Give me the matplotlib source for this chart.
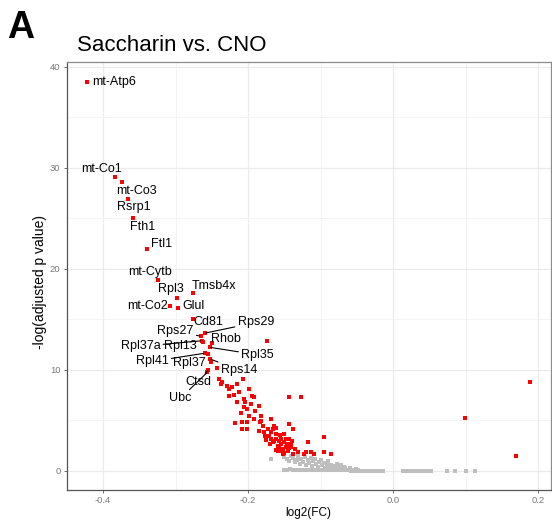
import matplotlib
matplotlib.use("Agg")
import matplotlib.pyplot as plt

plt.rcParams['font.family'] = ['Liberation Sans', 'DejaVu Sans']

# ---------------- data ----------------
# labelled genes (log2FC, -log10 adj p)
gene_names = ["mt-Atp6", "mt-Co1", "mt-Co3", "Rsrp1", "Fth1", "Ftl1", "mt-Cytb",
              "Rpl3", "Tmsb4x", "mt-Co2", "Glul", "Cd81", "Rps29", "Rps27", "Rhob",
              "Rpl35", "Rpl37a", "Rpl13", "Rpl41", "Rpl37", "Rps14", "Ctsd", "Ubc"]
gene_x = [-0.422, -0.3834, -0.374, -0.366, -0.3585, -0.3388, -0.324,
          -0.2977, -0.2762, -0.307, -0.2963, -0.2762, -0.2596, -0.2655, -0.2495,
          -0.2530, -0.2640, -0.2623, -0.2596, -0.2554, -0.2526, -0.2554, -0.2563]
gene_y = [38.5, 29.1, 28.6, 26.9, 24.96, 21.96, 18.83,
          17.1, 17.58, 16.3, 16.14, 15.0, 13.6, 13.3, 12.6,
          12.2, 12.85, 12.68, 11.62, 11.52, 11.05, 9.98, 9.72]

# other significant genes (red)
sig_x = [-0.2402, -0.2379, -0.2286, -0.2264, -0.2217, -0.2148, -0.2065, -0.2195,
         -0.2264, -0.2148, -0.2057, -0.2043, -0.1988, -0.1941, -0.1918, -0.1435,
         -0.1273, -0.2057, -0.2010, -0.1849, -0.2093, -0.1987, -0.2185, -0.2079,
         -0.2079, -0.2010, -0.2010, -0.1918, -0.1826, -0.1840, -0.1800, -0.1733,
         -0.1688, -0.1780, -0.1711, -0.1664, -0.1642, -0.1618, -0.1618, -0.1688,
         -0.1664, -0.1642, -0.1618, -0.1595, -0.1573, -0.1549, -0.1549, -0.1526,
         -0.1504, -0.1480, -0.1480, -0.1457, -0.1435, -0.1435, -0.1411, -0.1411,
         -0.1400, -0.1388, -0.1526, -0.1595, -0.1388, -0.1227, -0.1204, -0.1180,
         -0.1135, -0.1089, -0.0951, -0.0951, -0.0858, -0.1743, -0.2430, -0.2517,
         -0.1700, -0.1560, -0.1500, -0.1470, -0.1620, -0.1530, -0.1440, -0.1580,
         -0.1750, -0.1850, -0.2355, -0.2120, -0.1960, -0.1900, -0.1820, -0.1770,
         -0.1680, -0.1500, -0.1360, -0.1310,
         0.1883, 0.0984, 0.1685]
sig_y = [9.06, 8.56, 8.39, 8.07, 8.24, 8.56, 9.06, 7.48,
         7.41, 6.81, 7.08, 6.76, 8.07, 7.41, 7.25, 7.31,
         7.25, 6.26, 6.09, 6.36, 5.67, 5.43, 4.71, 4.78,
         4.12, 4.12, 4.78, 5.11, 5.43, 4.78, 4.45, 4.12,
         5.11, 3.79, 3.46, 4.12, 4.44, 4.22, 3.62, 3.13,
         2.80, 2.96, 3.13, 2.47, 2.31, 3.13, 2.64, 2.14,
         2.80, 2.31, 3.13, 1.98, 3.13, 4.61, 2.64, 2.31,
         2.95, 4.12, 1.65, 1.98, 1.65, 1.65, 1.82, 2.80,
         1.88, 1.65, 3.36, 1.82, 1.65, 12.84, 10.2, 10.77,
         2.60, 3.50, 3.60, 2.60, 2.00, 1.90, 2.20, 2.90,
         3.00, 3.90, 8.75, 7.80, 6.60, 5.90, 4.90, 3.40,
         3.80, 1.75, 2.10, 1.85,
         8.73, 5.20, 1.48]

# non-significant genes (grey)
ns_x = [-0.168, -0.150, -0.147, -0.144, -0.141, -0.138, -0.136, -0.133, -0.131,
        -0.129, -0.127, -0.125, -0.122, -0.120, -0.118, -0.116, -0.114, -0.112,
        -0.110, -0.108, -0.106, -0.104, -0.102, -0.100, -0.098, -0.096, -0.094,
        -0.092, -0.090, -0.088, -0.086, -0.084, -0.082, -0.080, -0.078, -0.076,
        -0.074, -0.072, -0.070, -0.068, -0.066, -0.064, -0.060, -0.056, -0.052,
        -0.048,
        -0.150, -0.146, -0.142, -0.138, -0.134, -0.130, -0.126, -0.122, -0.118,
        -0.114, -0.110, -0.106, -0.102, -0.098, -0.094, -0.090, -0.086, -0.082,
        -0.078, -0.074, -0.070, -0.066, -0.062, -0.058, -0.054, -0.050, -0.046,
        -0.042, -0.038, -0.034, -0.030, -0.026, -0.022, -0.018, -0.014,
        0.013, 0.017, 0.021, 0.025, 0.029, 0.033, 0.037, 0.041, 0.045, 0.049,
        0.052, 0.0745, 0.0846, 0.0998, 0.1132]
ns_y = [1.15, 1.35, 1.10, 0.90, 1.45, 1.20, 0.80, 1.00, 1.40,
        0.60, 1.15, 0.85, 1.30, 0.50, 1.00, 0.70, 1.20, 0.40,
        0.90, 1.10, 0.60, 0.30, 0.80, 1.00, 0.50, 0.70, 0.25,
        0.60, 0.90, 0.40, 0.55, 0.20, 0.45, 0.30, 0.65, 0.20,
        0.35, 0.50, 0.15, 0.30, 0.25, 0.10, 0.20, 0.10, 0.15,
        0.05,
        0.10, 0.05, 0.15, 0.05, 0.10, 0.02, 0.08, 0.03, 0.06,
        0.02, 0.05, 0.02, 0.04, 0.02, 0.03, 0.01, 0.02, 0.01,
        0.02, 0.01, 0.01, 0.01, 0.01, 0.0, 0.0, 0.0, 0.0,
        0.0, 0.0, 0.0, 0.0, 0.0, 0.0, 0.0, 0.0,
        0.0, 0.0, 0.0, 0.0, 0.0, 0.0, 0.0, 0.0, 0.0, 0.0,
        0.0, 0.0, 0.0, 0.0, 0.0]

x_ticks = [-0.4, -0.2, 0.0, 0.2]
x_tick_labels = ["-0.4", "-0.2", "0.0", "0.2"]
y_ticks = [0, 10, 20, 30, 40]
y_tick_labels = ["0", "10", "20", "30", "40"]

# label placement (layout): name -> (label x, label y, ha, draw segment)
label_pos = {
    "mt-Atp6": (-0.4152, 38.5, 'left', False),
    "mt-Co1": (-0.4014, 29.9, 'center', False),
    "mt-Co3": (-0.354, 27.7, 'center', False),
    "Rsrp1": (-0.3577, 26.07, 'center', False),
    "Fth1": (-0.3447, 24.1, 'center', False),
    "Ftl1": (-0.3198, 22.46, 'center', False),
    "mt-Cytb": (-0.3356, 19.69, 'center', False),
    "Rpl3": (-0.307, 17.95, 'center', False),
    "Tmsb4x": (-0.2471, 18.24, 'center', False),
    "mt-Co2": (-0.3392, 16.3, 'center', False),
    "Glul": (-0.2748, 16.27, 'center', False),
    "Cd81": (-0.2549, 14.66, 'center', False),
    "Rps29": (-0.1895, 14.66, 'center', True),
    "Rps27": (-0.3001, 13.83, 'center', True),
    "Rhob": (-0.2310, 13.0, 'center', False),
    "Rpl35": (-0.1871, 11.46, 'center', True),
    "Rpl37a": (-0.3484, 12.29, 'center', True),
    "Rpl13": (-0.2927, 12.29, 'center', False),
    "Rpl41": (-0.3323, 10.8, 'center', True),
    "Rpl37": (-0.2803, 10.64, 'center', False),
    "Rps14": (-0.2126, 9.95, 'center', True),
    "Ctsd": (-0.2679, 8.73, 'center', True),
    "Ubc": (-0.2932, 7.15, 'center', True),
}

# ---------------- figure ----------------
fig = plt.figure(figsize=(5.52, 5.21), dpi=100)
ax = fig.add_axes([0.1208, 0.0595, 0.877, 0.821])

ax.set_xlim(-0.45, 0.217)
ax.set_ylim(-1.93, 40.43)

# grid
ax.set_xticks(x_ticks)
ax.set_xticklabels(x_tick_labels)
ax.set_yticks(y_ticks)
ax.set_yticklabels(y_tick_labels)
ax.set_xticks([-0.3, -0.1, 0.1], minor=True)
ax.set_yticks([5, 15, 25, 35], minor=True)
ax.grid(which='major', color='#EBEBEB', lw=0.9)
ax.grid(which='minor', color='#F2F2F2', lw=0.6)
ax.set_axisbelow(True)
ax.tick_params(which='minor', length=0)
ax.tick_params(which='major', length=2.5, width=0.6, color='#555555',
               labelsize=6.8, labelcolor='#7A7A7A', pad=2)
for s in ax.spines.values():
    s.set_color('#8C8C8C')
    s.set_linewidth(0.9)
ax.spines['left'].set_color('#555555')
ax.spines['bottom'].set_color('#555555')

# points
ax.scatter(ns_x, ns_y, marker='s', s=11, color='#BEBEBE', linewidths=0, zorder=2)
ax.scatter(sig_x, sig_y, marker='s', s=11, color='#FF0000', linewidths=0, zorder=3)
ax.scatter(gene_x, gene_y, marker='s', s=11, color='#FF0000', linewidths=0, zorder=3)

# labels
for name, gx, gy in zip(gene_names, gene_x, gene_y):
    lx, ly, ha, seg = label_pos[name]
    if seg:
        ax.annotate(name, xy=(gx, gy), xytext=(lx, ly), ha=ha, va='center',
                    fontsize=9, color='black', zorder=4,
                    arrowprops=dict(arrowstyle='-', color='black', lw=0.8,
                                    shrinkA=0, shrinkB=1))
    else:
        ax.text(lx, ly, name, ha=ha, va='center', fontsize=9, color='black', zorder=4)

# titles
fig.text(0.139, 0.903, "Saccharin vs. CNO", fontsize=16, ha='left', va='baseline')
fig.text(0.013, 0.927, "A", fontsize=27, fontweight='bold', ha='left', va='baseline')
fig.text(0.559, 0.016, "log2(FC)", fontsize=8.5, ha='center', va='center')
fig.text(0.072, 0.458, "-log(adjusted p value)", fontsize=10, rotation=90,
         ha='center', va='center')

fig.savefig("out.png", dpi=100)
